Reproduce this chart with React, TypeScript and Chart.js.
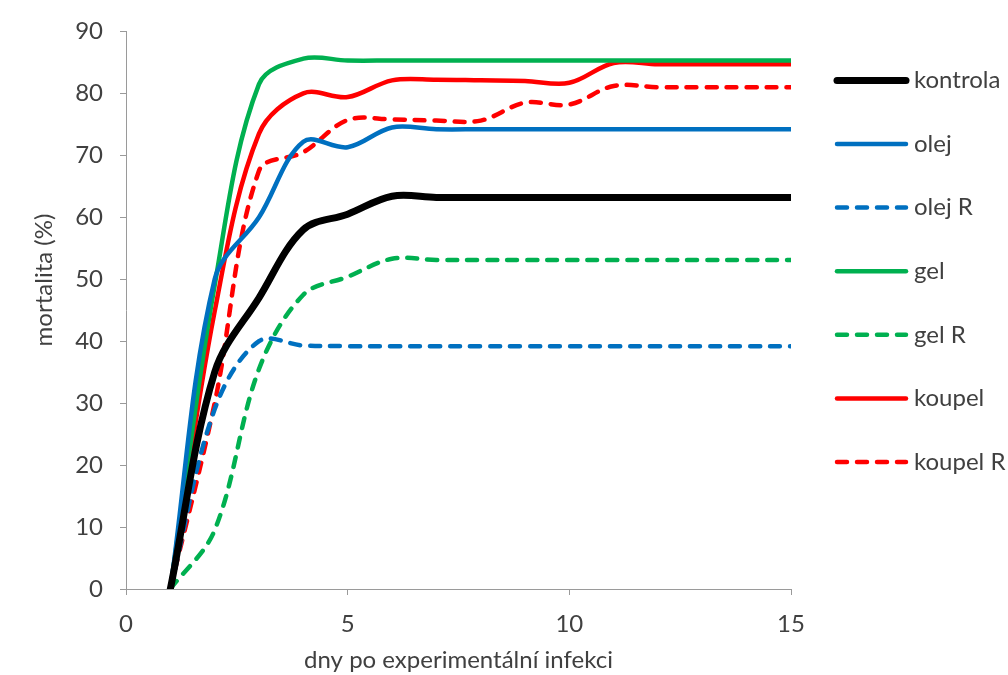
import React, { useEffect, useRef } from "react";
import { Chart, registerables } from "chart.js";

Chart.register(...registerables);

// ---- data ----
const days = [1, 2, 3, 4, 5, 6, 7, 8, 9, 10, 11, 12, 13, 14, 15];
const kontrola = [0, 35, 47, 58, 60.5, 63.4, 63.2, 63.2, 63.2, 63.2, 63.2, 63.2, 63.2, 63.2, 63.2];
const olej = [0, 50, 60, 72.2, 71.3, 74.5, 74.2, 74.2, 74.2, 74.2, 74.2, 74.2, 74.2, 74.2, 74.2];
const olejR = [0, 29, 40, 39.3, 39.2, 39.2, 39.2, 39.2, 39.2, 39.2, 39.2, 39.2, 39.2, 39.2, 39.2];
const gel = [0, 49, 81.5, 85.6, 85.3, 85.3, 85.3, 85.3, 85.3, 85.3, 85.3, 85.3, 85.3, 85.3, 85.3];
const gelR = [0, 9.5, 35.5, 47.5, 50.4, 53.3, 53.1, 53.1, 53.1, 53.1, 53.1, 53.1, 53.1, 53.1, 53.1];
const koupel = [0, 44.8, 73.5, 80, 79.4, 82.1, 82.2, 82.1, 82, 81.7, 84.9, 84.7, 84.7, 84.7, 84.7];
const koupelR = [0, 30, 67.5, 70.5, 75.7, 75.8, 75.6, 75.6, 78.5, 78.2, 81.2, 81.0, 81.0, 81.0, 81.0];

const seriesLabels = ["kontrola", "olej", "olej R", "gel", "gel R", "koupel", "koupel R"];
const xTicks = [0, 5, 10, 15];
const yTicks = [0, 10, 20, 30, 40, 50, 60, 70, 80, 90];
const xTitle = "dny po experimentální infekci";
const yTitle = "mortalita (%)";

const TEXT = "#404040";
const AXIS = "#9a9a9a";
const FONT_FAMILY = "Lato, 'Open Sans', sans-serif";
const FONT_SIZE = 24;

const sideLegend = {
  id: "sideLegend",
  afterDraw(chart: any) {
    const { ctx, chartArea } = chart;
    const x0 = chartArea.right + 46;
    const lineW = 69;
    const top = chartArea.top + 49;
    const step = 63.6;
    chart.data.datasets.forEach((ds: any, i: number) => {
      const y = top + i * step;
      ctx.save();
      ctx.strokeStyle = ds.borderColor;
      ctx.lineWidth = ds.borderWidth;
      ctx.lineCap = "round";
      ctx.setLineDash(ds.borderDash || []);
      ctx.beginPath();
      ctx.moveTo(x0, y);
      ctx.lineTo(x0 + lineW, y);
      ctx.stroke();
      ctx.setLineDash([]);
      ctx.fillStyle = TEXT;
      ctx.font = `${FONT_SIZE}px ${FONT_FAMILY}`;
      ctx.textBaseline = "middle";
      ctx.textAlign = "left";
      ctx.fillText(ds.label, x0 + lineW + 8, y);
      ctx.restore();
    });
    // y axis title
    ctx.save();
    ctx.translate(52, 280);
    ctx.rotate(-Math.PI / 2);
    ctx.fillStyle = TEXT;
    ctx.font = `${FONT_SIZE}px ${FONT_FAMILY}`;
    ctx.textAlign = "center";
    ctx.textBaseline = "alphabetic";
    ctx.fillText(yTitle, 0, 0);
    ctx.restore();
  },
};

export default function App() {
  const ref = useRef<HTMLCanvasElement | null>(null);

  useEffect(() => {
    if (!ref.current) return;
    const mk = (label: string, values: number[], color: string, width: number, dashed: boolean) => ({
      label,
      data: days.map((d, i) => ({ x: d, y: values[i] })),
      borderColor: color,
      backgroundColor: color,
      borderWidth: width,
      borderDash: dashed ? [10, 10] : [],
      borderCapStyle: "round",
      borderJoinStyle: "round",
      pointRadius: 0,
      tension: 0.35,
      fill: false,
    });
    const datasets = [
      mk(seriesLabels[0], kontrola, "#000000", 7, false),
      mk(seriesLabels[1], olej, "#0070C0", 4.5, false),
      mk(seriesLabels[2], olejR, "#0070C0", 4.5, true),
      mk(seriesLabels[3], gel, "#00B050", 4.5, false),
      mk(seriesLabels[4], gelR, "#00B050", 4.5, true),
      mk(seriesLabels[5], koupel, "#FF0000", 4.5, false),
      mk(seriesLabels[6], koupelR, "#FF0000", 4.5, true),
    ];
    const font = { family: FONT_FAMILY, size: FONT_SIZE };
    const chart = new Chart(ref.current, {
      type: "line",
      data: { datasets } as any,
      plugins: [sideLegend],
      options: {
        animation: false,
        responsive: false,
        devicePixelRatio: 1,
        layout: { padding: { left: 0, top: 31, right: 217, bottom: 0 } },
        plugins: { legend: { display: false }, tooltip: { enabled: false }, title: { display: false } },
        scales: {
          x: {
            type: "linear",
            min: 0,
            max: 15,
            afterBuildTicks: (s: any) => {
              s.ticks = xTicks.map((v) => ({ value: v }));
            },
            afterFit: (s: any) => {
              s.height = 86;
            },
            ticks: { color: TEXT, font, padding: 15, maxRotation: 0 },
            grid: { drawOnChartArea: false, drawTicks: true, tickLength: 6, color: AXIS },
            border: { color: AXIS, width: 1 },
            title: { display: true, text: xTitle, color: TEXT, font, padding: { top: 0, bottom: 0 } },
          },
          y: {
            min: 0,
            max: 90,
            afterBuildTicks: (s: any) => {
              s.ticks = yTicks.map((v) => ({ value: v }));
            },
            afterFit: (s: any) => {
              s.width = 126;
            },
            ticks: { color: TEXT, font, padding: 17 },
            grid: { drawOnChartArea: false, drawTicks: true, tickLength: 6, color: AXIS },
            border: { color: AXIS, width: 1 },
          },
        },
      } as any,
    });
    return () => chart.destroy();
  }, []);

  return (
    <div style={{ position: "fixed", left: 0, top: 0, width: 1008, height: 675, background: "#fff" }}>
      <canvas ref={ref} width={1008} height={675} />
    </div>
  );
}
